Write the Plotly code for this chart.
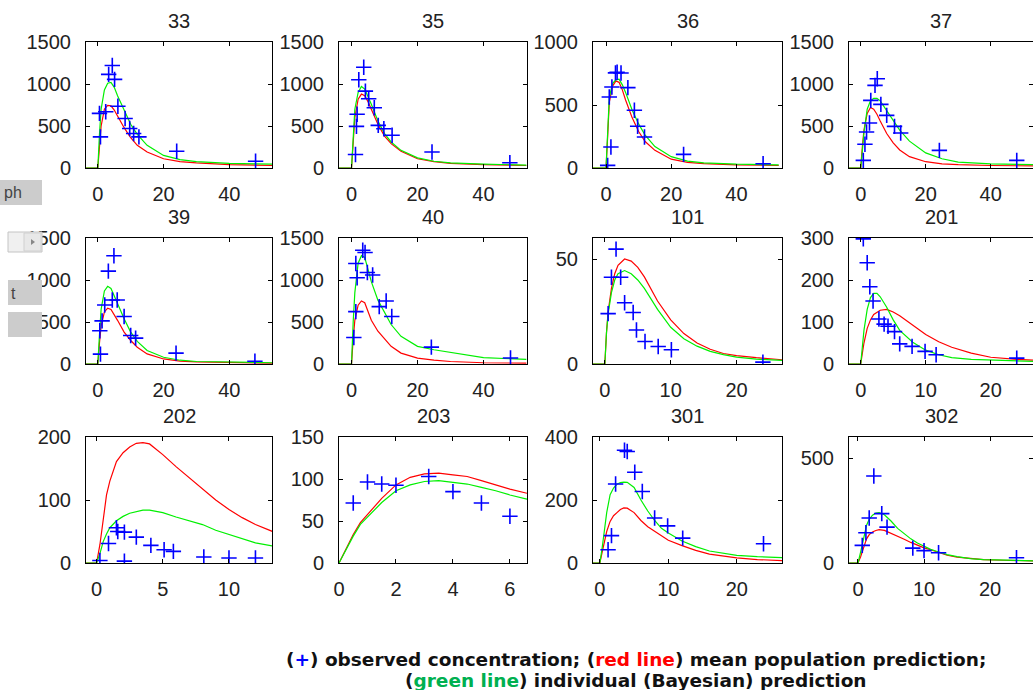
import plotly.graph_objects as go

# ---------------- data ----------------
SUBJECTS = ["33", "35", "36", "37", "39", "40", "101", "201", "202", "203", "301", "302"]

# 48 h sampling subjects share one prediction time grid
T_PRED_48 = [-4, 0, 0.5, 1, 2, 3, 4, 5, 6, 8, 10, 12, 15, 20, 25, 30, 40, 53]

OBS_T_33 = [0.8, 0.5, 2.4, 3.3, 4.4, 5.1, 6.1, 8.3, 9.7, 10.9, 12.5, 24, 48]
OBS_C_33 = [370, 650, 670, 1115, 1220, 1055, 735, 590, 470, 410, 370, 200, 80]
POP_33 = [0, 0, 250, 500, 700, 745, 740, 690, 620, 480, 360, 270, 190, 110, 75, 60, 40, 30]
IND_33 = [0, 0, 400, 700, 930, 1010, 1020, 960, 860, 680, 520, 400, 270, 150, 100, 75, 55, 45]

OBS_T_35 = [1.2, 1.5, 1.7, 2.2, 3.7, 4.2, 5.2, 6.9, 8.1, 9.8, 12.3, 24.4, 48]
OBS_C_35 = [160, 495, 640, 1050, 1200, 915, 825, 718, 508, 468, 389, 190, 63]
POP_35 = [0, 0, 300, 600, 820, 880, 860, 790, 700, 520, 380, 290, 200, 110, 75, 55, 40, 30]
IND_35 = [0, 0, 350, 700, 900, 970, 940, 860, 760, 560, 410, 310, 210, 120, 80, 60, 45, 35]

OBS_T_36 = [0.5, 1.5, 1.0, 1.8, 2.9, 3.4, 4.6, 6.7, 8.7, 9.7, 11.8, 23.8, 48.2]
OBS_C_36 = [21, 167, 564, 643, 755, 760, 754, 638, 458, 331, 246, 108, 34]
POP_36 = [0, 0, 250, 520, 650, 690, 680, 620, 540, 400, 290, 210, 140, 70, 45, 35, 25, 20]
IND_36 = [0, 0, 280, 560, 670, 700, 705, 660, 600, 460, 350, 260, 170, 90, 55, 40, 30, 25]

OBS_T_37 = [0.8, 1.3, 1.8, 2.7, 3.1, 4.4, 5.1, 6.2, 8, 10.4, 12.3, 24.2, 48]
OBS_C_37 = [91, 282, 429, 536, 805, 984, 1063, 758, 627, 496, 417, 210, 91]
POP_37 = [0, 0, 250, 450, 650, 720, 700, 640, 560, 410, 300, 215, 135, 75, 50, 40, 30, 25]
IND_37 = [0, 0, 200, 420, 700, 800, 830, 830, 800, 680, 560, 450, 320, 180, 110, 70, 50, 40]

OBS_T_39 = [0.8, 0.6, 1.3, 2.1, 3.2, 4.9, 4.4, 5.9, 8, 10, 11.5, 23.8, 47.8]
OBS_C_39 = [118, 395, 513, 703, 1106, 1288, 762, 762, 565, 340, 308, 130, 32]
POP_39 = [0, 0, 250, 450, 620, 665, 650, 590, 520, 380, 280, 200, 120, 60, 35, 25, 15, 10]
IND_39 = [0, 0, 350, 650, 870, 925, 900, 820, 720, 540, 380, 270, 160, 80, 45, 30, 20, 15]

OBS_T_40 = [0.7, 1.3, 1.7, 1.3, 3.4, 4.1, 4.8, 6.4, 8.4, 10.5, 12.2, 24.2, 48.2]
OBS_C_40 = [316, 624, 1027, 1197, 1355, 1327, 1090, 1059, 683, 750, 565, 201, 71]
POP_40 = [0, 0, 300, 520, 700, 750, 730, 620, 520, 390, 300, 210, 130, 70, 45, 30, 15, 10]
IND_40 = [0, 0, 500, 850, 1200, 1290, 1270, 1130, 980, 760, 610, 470, 330, 210, 170, 140, 75, 55]

T_PRED_101 = [-2, 0, 0.25, 0.5, 1, 1.5, 2, 3, 4, 5, 6, 8, 10, 12, 14, 16, 18, 20, 23, 27]
OBS_T_101 = [0.5, 1.0, 1.7, 2.4, 3.0, 4.3, 4.8, 6.1, 8.1, 10.1, 24]
OBS_C_101 = [24, 41.3, 54.7, 41.3, 29.2, 24.5, 16.2, 10.7, 8.3, 6.8, 0.9]
POP_101 = [0, 0, 15, 25, 36, 43, 47, 50, 49, 46, 41.5, 30, 21, 14.5, 10, 7, 5, 4, 3, 2]
IND_101 = [0, 0, 15, 24, 34, 40, 43, 44.5, 43, 40, 36, 26, 17.5, 12, 8.5, 6, 4.5, 3.3, 2.3, 1.7]

T_PRED_201 = [-2, 0, 0.25, 0.5, 1, 1.5, 2, 2.5, 3, 4, 5, 6, 8, 10, 12, 14, 17, 20, 24, 27]
OBS_T_201 = [0.4, 1.0, 1.4, 1.9, 2.8, 3.6, 4.2, 5.2, 6.0, 7.9, 9.9, 11.6, 24]
OBS_C_201 = [298, 241, 184, 150, 107, 95, 90, 77, 48, 42, 30, 22, 14]
POP_201 = [0, 0, 25, 50, 85, 105, 118, 124, 128, 130, 124, 115, 92, 70, 53, 40, 26, 16, 11, 9]
IND_201 = [0, 0, 40, 80, 130, 158, 168, 168, 160, 135, 105, 80, 52, 33, 22, 15, 11, 9, 7, 6]

T_PRED_202 = [-1, 0, 0.25, 0.5, 0.75, 1, 1.5, 2, 2.5, 3, 3.5, 4, 5, 6, 7, 8, 9, 10, 11, 12, 13.3]
OBS_T_202 = [0.25, 0.9, 1.5, 1.6, 2.1, 2.1, 3.0, 4.1, 5.1, 5.8, 8.1, 10, 12]
OBS_C_202 = [4, 31, 56, 50, 49, 3, 41, 28, 21, 18.5, 9.5, 8, 8]
POP_202 = [0, 0, 29, 70, 108, 130, 161, 175, 184, 190, 191, 189, 172, 153, 135, 118, 100, 85, 72, 61, 50]
IND_202 = [0, 0, 15, 34, 46, 56, 67, 74, 79, 82, 84, 84, 80, 73, 67, 61, 52, 45, 39, 32, 27]

T_PRED_203 = [0, 0.25, 0.5, 0.75, 1, 1.5, 2, 2.5, 3, 3.5, 4, 4.5, 5, 5.5, 6, 6.6]
OBS_T_203 = [0.5, 1, 1.5, 2, 3.15, 4, 5, 6]
OBS_C_203 = [71.5, 96.5, 94, 92.5, 103, 85, 71.5, 55.6]
POP_203 = [0, 18, 34, 48, 58, 77, 93, 102, 106, 107, 105, 103, 98, 93, 88, 83]
IND_203 = [0, 17, 32, 46, 55, 72, 86, 93, 97, 98, 96, 94, 90, 86, 81, 76]

T_PRED_301 = [-1, 0, 0.35, 0.7, 1, 1.5, 2, 2.5, 3, 3.5, 4, 5, 6, 7, 8, 9, 10, 12, 14, 16, 18, 20, 23, 27]
OBS_T_301 = [1.2, 1.7, 2.3, 3.6, 4.0, 5.1, 6.2, 8, 9.9, 12.1, 23.9]
OBS_C_301 = [42, 87, 251, 358, 354, 288, 227, 143, 118, 79, 61]
POP_301 = [0, 0, 35, 69, 100, 132, 150, 160, 170, 175, 174, 160, 135, 115, 100, 85, 72, 55, 40, 28, 22, 16, 11, 7]
IND_301 = [0, 0, 50, 111, 160, 217, 238, 250, 255, 257, 256, 240, 200, 165, 135, 110, 95, 70, 52, 38, 30, 24, 20, 17]

T_PRED_302 = [-1.5, 0, 0.4, 0.9, 1.3, 1.7, 2.2, 2.7, 3.2, 4, 5, 6, 7, 8, 9, 10, 11, 12, 13.5, 15, 17, 19, 22, 27]
OBS_T_302 = [0.65, 1.2, 1.7, 2.4, 3.6, 4.4, 8.3, 10, 12.2, 24]
OBS_C_302 = [84, 144, 214, 414, 235, 171, 71, 59, 49, 25]
POP_302 = [0, 0, 30, 84, 115, 135, 148, 155, 159, 155, 142, 128, 113, 98, 84, 72, 63, 52, 37, 28, 21, 16, 13, 10]
IND_302 = [0, 0, 52, 132, 180, 208, 228, 238, 240, 230, 200, 165, 140, 115, 95, 80, 65, 55, 40, 30, 21, 16, 13, 10]

# axis limits and tick values per subject
X_RANGES = [[-3.6, 53], [-3.8, 53.2], [-4, 54], [-3.6, 53],
            [-3.6, 53], [-3.8, 53.2], [-1.8, 26.9], [-1.8, 26.5],
            [-0.8, 13.25], [0, 6.6], [-1, 26.6], [-1.36, 26.5]]
Y_RANGES = [[0, 1500], [0, 1500], [0, 1000], [0, 1500],
            [0, 1500], [0, 1500], [0, 60], [0, 300],
            [0, 200], [0, 150], [0, 400], [0, 600]]
X_TICKS = [[0, 20, 40]] * 6 + [[0, 10, 20], [0, 10, 20], [0, 5, 10], [0, 2, 4, 6], [0, 10, 20], [0, 10, 20]]
Y_TICKS = [[0, 500, 1000, 1500], [0, 500, 1000, 1500], [0, 500, 1000], [0, 500, 1000, 1500],
           [0, 500, 1000, 1500], [0, 500, 1000, 1500], [0, 50], [0, 100, 200, 300],
           [0, 100, 200], [0, 50, 100, 150], [0, 200, 400], [0, 500]]

panels = [
    (OBS_T_33, OBS_C_33, T_PRED_48, POP_33, IND_33),
    (OBS_T_35, OBS_C_35, T_PRED_48, POP_35, IND_35),
    (OBS_T_36, OBS_C_36, T_PRED_48, POP_36, IND_36),
    (OBS_T_37, OBS_C_37, T_PRED_48, POP_37, IND_37),
    (OBS_T_39, OBS_C_39, T_PRED_48, POP_39, IND_39),
    (OBS_T_40, OBS_C_40, T_PRED_48, POP_40, IND_40),
    (OBS_T_101, OBS_C_101, T_PRED_101, POP_101, IND_101),
    (OBS_T_201, OBS_C_201, T_PRED_201, POP_201, IND_201),
    (OBS_T_202, OBS_C_202, T_PRED_202, POP_202, IND_202),
    (OBS_T_203, OBS_C_203, T_PRED_203, POP_203, IND_203),
    (OBS_T_301, OBS_C_301, T_PRED_301, POP_301, IND_301),
    (OBS_T_302, OBS_C_302, T_PRED_302, POP_302, IND_302),
]

# ---------------- layout geometry (pixels) ----------------
W, H = 1033, 690
COL_L = [86, 339, 593, 849]
COL_R = [272, 527, 782, 1033]
ROW_T = [42, 238, 437]
ROW_B = [168, 364, 563]

TICK_FONT = dict(family="Liberation Sans, Arial, sans-serif", size=20, color="#222222")

fig = go.Figure()
layout = dict(
    width=W, height=H,
    margin=dict(l=0, r=0, t=0, b=0, autoexpand=False),
    paper_bgcolor="white", plot_bgcolor="white",
    showlegend=False,
)
annotations = []

for i, (ot, oc, pt, pop, ind) in enumerate(panels):
    r, c = divmod(i, 4)
    n = "" if i == 0 else str(i + 1)
    xa, ya = "x" + n, "y" + n
    fig.add_trace(go.Scatter(x=pt, y=pop, mode="lines", xaxis=xa, yaxis=ya,
                             line=dict(color="#ff0000", width=1.2), hoverinfo="skip"))
    fig.add_trace(go.Scatter(x=pt, y=ind, mode="lines", xaxis=xa, yaxis=ya,
                             line=dict(color="#00f000", width=1.2), hoverinfo="skip"))
    fig.add_trace(go.Scatter(x=ot, y=oc, mode="markers", xaxis=xa, yaxis=ya,
                             marker=dict(symbol="cross-thin", size=11,
                                         line=dict(color="#0000ff", width=1.6))))
    common = dict(showline=True, linecolor="black", linewidth=1, mirror="ticks",
                  ticks="inside", ticklen=4, tickcolor="black", tickwidth=1,
                  showgrid=False, zeroline=False, tickfont=TICK_FONT, automargin=False)
    layout["xaxis" + n] = dict(
        domain=[COL_L[c] / W, min(COL_R[c] / W, 1.0)], anchor=ya,
        range=X_RANGES[i], tickvals=X_TICKS[i], ticklabelstandoff=8, **common)
    layout["yaxis" + n] = dict(
        domain=[1 - ROW_B[r] / H, 1 - ROW_T[r] / H], anchor=xa,
        range=Y_RANGES[i], tickvals=Y_TICKS[i], ticklabelstandoff=10, **common)
    annotations.append(dict(
        text=SUBJECTS[i], xref="paper", yref="paper",
        x=(COL_L[c] + min(COL_R[c], W)) / 2 / W, y=1 - (ROW_T[r] - 21) / H,
        xanchor="center", yanchor="middle", showarrow=False, font=TICK_FONT))

# caption under the grid, one annotation per line
CAP_FONT = dict(family="DejaVu Sans, Verdana, sans-serif", size=18.5, color="#111111")
caption_lines = [
    ("<b>(<span style='color:#0000ff'>+</span>) observed concentration; "
     "(<span style='color:#ff0000'>red line</span>) mean population prediction;</b>", 659),
    ("<b>(<span style='color:#00b050'>green line</span>) individual (Bayesian) prediction</b>", 680),
]
for txt, ypx in caption_lines:
    annotations.append(dict(
        xref="paper", yref="paper", x=636 / W, y=1 - ypx / H,
        xanchor="center", yanchor="middle", showarrow=False, font=CAP_FONT, text=txt))

# side control panel fragments on the left edge
shapes = []
def px_rect(x0, y0, x1, y1, fill, line="rgba(0,0,0,0)"):
    shapes.append(dict(type="rect", xref="paper", yref="paper", layer="above",
                       x0=x0 / W, x1=x1 / W, y0=1 - y1 / H, y1=1 - y0 / H,
                       fillcolor=fill, line=dict(color=line, width=1)))

px_rect(0, 180, 42, 205, "#cccccc")
px_rect(8, 232, 42, 252, "#f0f0f0", "#c4c4c4")
px_rect(24, 233, 41, 251, "#e8e8e8", "#d0d0d0")
px_rect(8, 280, 42, 305, "#cccccc")
px_rect(8, 312, 42, 337, "#cccccc")

# small dropdown arrow drawn as a triangle
def px(xv, yv):
    return f"{xv / W:.5f},{1 - yv / H:.5f}"
shapes.append(dict(type="path", xref="paper", yref="paper", layer="above",
                   path=f"M{px(31, 239)} L{px(35, 242)} L{px(31, 245)} Z",
                   fillcolor="#888888", line=dict(width=0)))

side_font = dict(family="Liberation Sans, Arial, sans-serif", size=16, color="#444444")
annotations.append(dict(text="ph", xref="paper", yref="paper", x=2 / W, y=1 - 193 / H,
                        xanchor="left", yanchor="middle", showarrow=False, font=side_font))
annotations.append(dict(text="t", xref="paper", yref="paper", x=9 / W, y=1 - 293 / H,
                        xanchor="left", yanchor="middle", showarrow=False, font=side_font))

layout["annotations"] = annotations
layout["shapes"] = shapes
fig.update_layout(**layout)

fig.write_html("out.html")
